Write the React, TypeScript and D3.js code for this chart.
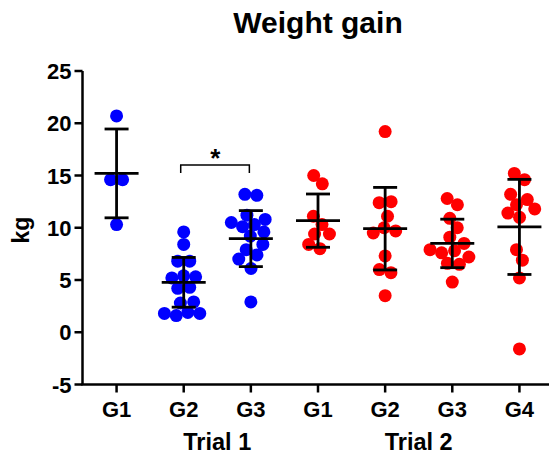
import { useMemo } from 'react';
import * as d3 from 'd3';

// groups along the x axis, left to right
const groups = ['G1', 'G2', 'G3', 'G1', 'G2', 'G3', 'G4'];
const trialOf = ['Trial 1', 'Trial 1', 'Trial 1', 'Trial 2', 'Trial 2', 'Trial 2', 'Trial 2'];
const trials = ['Trial 1', 'Trial 2'];

// individual weight gains (kg)
const t1g1 = [20.7, 14.6, 14.6, 10.3];
const t1g2 = [9.6, 8.4, 6.8, 6.8, 5.4, 5.3, 5.2, 4.3, 4.2, 2.9, 2.8, 1.9, 1.8, 1.8, 1.6];
const t1g3 = [13.2, 13.1, 11.2, 10.8, 10.5, 10.3, 10.1, 9.6, 9.2, 8.4, 7.9, 7.4, 7.0, 6.1, 2.9];
const t2g1 = [15.0, 14.2, 11.1, 10.3, 9.4, 9.4, 8.4, 8.0];
const t2g2 = [19.2, 12.5, 12.4, 11.1, 10.0, 9.7, 9.5, 7.3, 6.0, 5.7, 3.5];
const t2g3 = [12.8, 12.2, 10.9, 10.0, 9.1, 8.5, 7.9, 7.8, 7.6, 7.2, 6.6, 6.5, 4.8];
const t2g4 = [15.2, 14.6, 13.2, 12.7, 12.2, 11.8, 11.4, 11.0, 7.9, 6.9, 5.2, -1.6];
const series = [t1g1, t1g2, t1g3, t2g1, t2g2, t2g3, t2g4];

// mean and SD bars as drawn
const means = [15.2, 4.78, 8.96, 10.68, 9.91, 8.5, 10.08];
const sds = [4.25, 2.38, 2.68, 2.55, 3.95, 2.32, 4.55];

const yTicks = [-5, 0, 5, 10, 15, 20, 25];

// significance bracket between Trial 1 G2 and G3
const bracket = { from: 1, to: 2, level: 16, label: '*' };

const W = 549;
const H = 455;
const font = '"Liberation Sans", Arial, sans-serif';

export default function App() {
  const x = d3.scaleBand<number>().domain(d3.range(groups.length)).range([83, 553]);
  const y = d3.scaleLinear().domain([-5, 25]).range([384.5, 71]);
  const color = d3.scaleOrdinal<string>().domain(trials).range(['#0000ff', '#ff0000']);
  const cx = (i: number) => (x(i) ?? 0) + x.bandwidth() / 2;

  // beeswarm: y fixed to the value, x spread by collision
  const dots = useMemo(() => {
    return series.map((vals, gi) => {
      const c = cx(gi);
      const nodes = vals.map((v, i) => ({
        v,
        x: c + (i % 2 ? 1 : -1) * (0.5 + i * 0.2),
        y: y(v),
        fy: y(v),
      })) as any[];
      const sim = d3.forceSimulation(nodes)
        .force('x', d3.forceX(c).strength(0.1))
        .force('collide', d3.forceCollide(6))
        .stop();
      for (let k = 0; k < 250; k++) sim.tick();
      return nodes;
    });
  }, []);

  const x0 = 82.5;
  const halfMean = 22;
  const halfCap = 12;

  return (
    <svg width={W} height={H} style={{ position: 'absolute', left: 0, top: 0, background: '#fff' }}>
      <text x={318} y={33} textAnchor="middle" fontFamily={font} fontWeight="bold" fontSize={30}>
        Weight gain
      </text>

      {/* y axis */}
      <line x1={x0} x2={x0} y1={y(25)} y2={y(-5)} stroke="#000" strokeWidth={2.5} />
      {yTicks.map((t) => (
        <g key={t}>
          <line x1={x0 - 8} x2={x0} y1={y(t)} y2={y(t)} stroke="#000" strokeWidth={2.5} />
          <text x={x0 - 11} y={y(t) + 8} textAnchor="end" fontFamily={font} fontWeight="bold" fontSize={22}>
            {t}
          </text>
        </g>
      ))}
      <text
        transform={`translate(29,230) rotate(-90)`}
        textAnchor="middle"
        fontFamily={font}
        fontWeight="bold"
        fontSize={23}
      >
        kg
      </text>

      {/* x axis */}
      <line x1={x0 - 1.25} x2={W} y1={y(-5)} y2={y(-5)} stroke="#000" strokeWidth={2.5} />
      {groups.map((g, i) => (
        <g key={i}>
          <line x1={cx(i)} x2={cx(i)} y1={y(-5)} y2={y(-5) + 8} stroke="#000" strokeWidth={2.5} />
          <text x={cx(i)} y={417} textAnchor="middle" fontFamily={font} fontWeight="bold" fontSize={22}>
            {g}
          </text>
        </g>
      ))}
      <text x={(cx(1) + cx(2)) / 2} y={450} textAnchor="middle" fontFamily={font} fontWeight="bold" fontSize={23.5}>
        {trials[0]}
      </text>
      <text x={(cx(3) + cx(6)) / 2} y={450} textAnchor="middle" fontFamily={font} fontWeight="bold" fontSize={23.5}>
        {trials[1]}
      </text>

      {/* points */}
      {dots.map((nodes, gi) =>
        nodes.map((n, i) => (
          <circle key={`${gi}-${i}`} cx={n.x} cy={y(n.v)} r={6.5} fill={color(trialOf[gi])} />
        ))
      )}

      {/* mean and SD */}
      {means.map((m, i) => {
        const c = cx(i);
        const hi = y(m + sds[i]);
        const lo = y(m - sds[i]);
        return (
          <g key={i} stroke="#000" strokeWidth={2.8}>
            <line x1={c - halfMean} x2={c + halfMean} y1={y(m)} y2={y(m)} />
            <line x1={c} x2={c} y1={hi} y2={lo} />
            <line x1={c - halfCap} x2={c + halfCap} y1={hi} y2={hi} />
            <line x1={c - halfCap} x2={c + halfCap} y1={lo} y2={lo} />
          </g>
        );
      })}

      {/* significance */}
      <g stroke="#000" strokeWidth={1.5} fill="none">
        <path
          d={`M${cx(bracket.from) - 3},${y(bracket.level) + 8}V${y(bracket.level)}H${cx(bracket.to) - 1.5}V${y(bracket.level) + 8}`}
        />
      </g>
      <text
        x={(cx(bracket.from) + cx(bracket.to)) / 2 - 2}
        y={y(bracket.level) + 2}
        textAnchor="middle"
        fontFamily={font}
        fontWeight="bold"
        fontSize={26}
      >
        {bracket.label}
      </text>
    </svg>
  );
}
